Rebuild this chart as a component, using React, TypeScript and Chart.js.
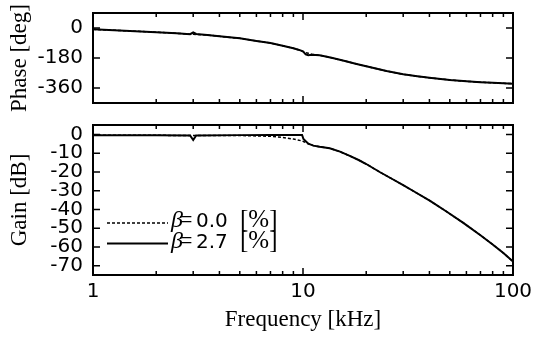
import React, { useEffect, useRef } from "react";
import { Chart, registerables } from "chart.js";
Chart.register(...registerables);

// ---------- data ----------
const phaseFreq = [1, 1.5, 2, 2.5, 2.9, 3.0, 3.1, 3.5, 4, 5, 6, 7, 8, 9, 9.5, 10, 10.3, 10.6, 11, 12, 13, 14, 16, 18, 20, 25, 30, 35, 40, 50, 60, 70, 80, 90, 100];
const phaseBeta00 = [-8, -18, -25, -32, -37, -38, -39, -42, -50, -62, -78, -90, -106, -122, -130, -142, -148, -152, -157, -164, -172, -182, -200, -216, -230, -258, -278, -290, -299, -312, -320, -325, -329, -332, -334];
const phaseBeta27 = [-8, -18, -25, -32, -37, -27, -36, -42, -50, -62, -78, -90, -106, -122, -130, -140, -158, -163, -161, -164, -172, -182, -200, -216, -230, -258, -278, -290, -299, -312, -320, -325, -329, -332, -334];

const gainFreq = [1, 2, 2.9, 3.0, 3.1, 5, 7, 8, 9, 9.9, 10.05, 10.6, 11.2, 12, 13.4, 15, 16.7, 18.5, 20, 23.3, 27, 30, 33.5, 40.3, 48, 58, 70, 80, 90, 100];
const gainBeta00 = [-0.5, -0.5, -0.6, -0.6, -0.6, -0.6, -1.0, -1.6, -2.5, -3.5, -3.8, -5, -6, -6.6, -7.4, -9.2, -11.5, -13.8, -15.8, -20.2, -24.2, -27.1, -30.2, -35.5, -41.0, -47.2, -53.8, -58.7, -63.3, -67.8];
const gainBeta27 = [-0.5, -0.5, -0.6, -3.0, -0.6, -0.4, -0.3, -0.3, -0.3, -0.3, -2.5, -5, -6, -6.6, -7.4, -9.2, -11.5, -13.8, -15.8, -20.2, -24.2, -27.1, -30.2, -35.5, -41.0, -47.2, -53.8, -58.7, -63.3, -67.8];

const phaseTicks = [0, -180, -360];
const gainTicks = [0, -10, -20, -30, -40, -50, -60, -70];
const freqTicks = [1, 10, 100];
const betaValues = ["0.0", "2.7"];

// ---------- layout constants ----------
const W = 535;
const H1 = 115;
const H2 = 235;
const LEFT = 93;
const RIGHT_PAD = 22;

const TICK_FONT = { family: "DejaVu Sans", size: 20, lineHeight: 1 };
const TITLE_FONT = { family: "Liberation Serif", size: 23, lineHeight: 1.2 };

const mk = (freq: number[], vals: number[]) => freq.map((f, i) => ({ x: f, y: vals[i] }));

const frameTicks = {
  id: "frameTicks",
  afterDraw(chart: any, _args: any, opts: any) {
    const { ctx, chartArea: a, scales } = chart;
    const x = scales.x;
    const y = scales.y;
    ctx.save();
    ctx.strokeStyle = "#000";
    ctx.lineWidth = 1.5;
    ctx.beginPath();
    for (const d of [1, 10]) {
      for (let m = 1; m <= 9; m++) {
        const px = x.getPixelForValue(d * m);
        const len = m === 1 ? 7 : 4;
        ctx.moveTo(px, a.top);
        ctx.lineTo(px, a.top + len);
        ctx.moveTo(px, a.bottom);
        ctx.lineTo(px, a.bottom - len);
      }
    }
    for (const t of opts.yTicks) {
      const py = y.getPixelForValue(t);
      ctx.moveTo(a.left, py);
      ctx.lineTo(a.left + 7, py);
      ctx.moveTo(a.right, py);
      ctx.lineTo(a.right - 7, py);
    }
    ctx.stroke();
    ctx.lineWidth = 2;
    ctx.strokeRect(a.left, a.top, a.right - a.left, a.bottom - a.top);
    ctx.restore();
  },
};

const betaLegend = {
  id: "betaLegend",
  afterDatasetsDraw(chart: any) {
    const { ctx, chartArea: a } = chart;
    const ds = chart.data.datasets;
    const rows = [
      { lineY: a.top + 98, base: a.top + 102 },
      { lineY: a.top + 118.5, base: a.top + 123 },
    ];
    ctx.save();
    rows.forEach((r, i) => {
      const d = ds[i];
      ctx.strokeStyle = "#000";
      ctx.lineWidth = d.borderWidth;
      ctx.setLineDash(d.borderDash || []);
      ctx.beginPath();
      ctx.moveTo(a.left + 14, r.lineY);
      ctx.lineTo(a.left + 75, r.lineY);
      ctx.stroke();
      ctx.setLineDash([]);
      ctx.fillStyle = "#000";
      ctx.textBaseline = "alphabetic";
      ctx.textAlign = "left";
      ctx.font = "italic 24px 'Liberation Serif'";
      ctx.fillText("β", a.left + 78, r.base);
      ctx.font = "24px 'Liberation Serif'";
      ctx.fillText("=", a.left + 86, r.base);
      ctx.font = "20px 'DejaVu Sans'";
      ctx.fillText(betaValues[i], a.left + 103, r.base);
      ctx.font = "25px 'Liberation Serif'";
      ctx.fillText("[%]", a.left + 147, r.base);
    });
    ctx.restore();
  },
};

function yAxis(min: number, max: number, ticks: number[], title: string) {
  return {
    min,
    max,
    afterBuildTicks: (s: any) => {
      s.ticks = ticks.map((v) => ({ value: v }));
    },
    afterFit: (s: any) => {
      s.width = LEFT;
      s.paddingTop = 0;
      s.paddingBottom = 0;
    },
    grid: { display: false, drawTicks: false },
    border: { display: false },
    ticks: {
      autoSkip: false,
      padding: 10,
      color: "#000",
      font: TICK_FONT,
      callback: (v: any) => String(v),
    },
    title: {
      display: true,
      text: title,
      color: "#000",
      font: TITLE_FONT,
      padding: { top: 6, bottom: 0 },
    },
  };
}

function datasets(freq: number[], d0: number[], d27: number[]) {
  return [
    {
      label: "β = 0.0 [%]",
      data: mk(freq, d0),
      borderColor: "#000",
      borderWidth: 1.5,
      borderDash: [3, 2],
      pointRadius: 0,
      fill: false,
      tension: 0,
    },
    {
      label: "β = 2.7 [%]",
      data: mk(freq, d27),
      borderColor: "#000",
      borderWidth: 2,
      pointRadius: 0,
      fill: false,
      tension: 0,
    },
  ];
}

const common = {
  responsive: false,
  maintainAspectRatio: false,
  animation: false as const,
  events: [] as any[],
};

export default function App() {
  const c1 = useRef<HTMLCanvasElement>(null);
  const c2 = useRef<HTMLCanvasElement>(null);

  useEffect(() => {
    const phase = new Chart(c1.current!, {
      type: "line",
      data: { datasets: datasets(phaseFreq, phaseBeta00, phaseBeta27) as any },
      options: {
        ...common,
        layout: { padding: { top: 13, right: RIGHT_PAD, bottom: H1 - 103, left: 0 } },
        plugins: {
          legend: { display: false },
          tooltip: { enabled: false },
          frameTicks: { yTicks: phaseTicks },
        } as any,
        scales: {
          x: { type: "logarithmic", min: 1, max: 100, display: false },
          y: yAxis(-450, 90, phaseTicks, "Phase [deg]") as any,
        },
      },
      plugins: [frameTicks],
    });

    const gain = new Chart(c2.current!, {
      type: "line",
      data: { datasets: datasets(gainFreq, gainBeta00, gainBeta27) as any },
      options: {
        ...common,
        layout: { padding: { top: 10, right: RIGHT_PAD, bottom: 0, left: 0 } },
        plugins: {
          legend: { display: false },
          tooltip: { enabled: false },
          frameTicks: { yTicks: gainTicks },
        } as any,
        scales: {
          x: {
            type: "logarithmic",
            min: 1,
            max: 100,
            afterBuildTicks: (s: any) => {
              s.ticks = freqTicks.map((v) => ({ value: v }));
            },
            afterFit: (s: any) => {
              s.height = H2 - 160;
              s.paddingLeft = 0;
              s.paddingRight = 0;
            },
            grid: { display: false, drawTicks: false },
            border: { display: false },
            ticks: {
              autoSkip: false,
              maxRotation: 0,
              padding: 5,
              color: "#000",
              font: { family: "DejaVu Sans", size: 20, lineHeight: 1.2 },
              callback: (v: any) => String(v),
            },
            title: {
              display: true,
              text: "Frequency [kHz]",
              color: "#000",
              font: TITLE_FONT,
              padding: { top: 0, bottom: 16 },
            },
          } as any,
          y: yAxis(-75, 5, gainTicks, "Gain [dB]") as any,
        },
      },
      plugins: [frameTicks, betaLegend],
    });

    return () => {
      phase.destroy();
      gain.destroy();
    };
  }, []);

  return (
    <div style={{ position: "absolute", left: 0, top: 0, width: W, height: H1 + H2, background: "#fff" }}>
      <canvas ref={c1} width={W} height={H1} style={{ position: "absolute", left: 0, top: 0 }} />
      <canvas ref={c2} width={W} height={H2} style={{ position: "absolute", left: 0, top: H1 }} />
    </div>
  );
}
